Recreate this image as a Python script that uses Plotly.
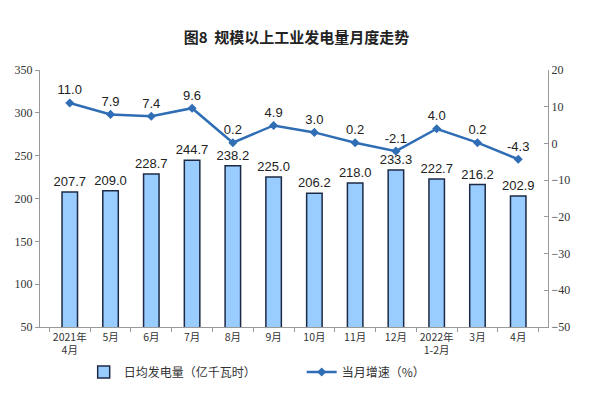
import plotly.graph_objects as go

meses = ["2021年<br>4月", "5月", "6月", "7月", "8月", "9月", "10月", "11月",
         "12月", "2022年<br>1-2月", "3月", "4月"]
generacion = [207.7, 209.0, 228.7, 244.7, 238.2, 225.0, 206.2, 218.0,
              233.3, 222.7, 216.2, 202.9]
crecimiento = [11.0, 7.9, 7.4, 9.6, 0.2, 4.9, 3.0, 0.2, -2.1, 4.0, 0.2, -4.3]

fuente_cjk = "Noto Sans CJK SC"
fuente_ejes = "Liberation Serif"

fig = go.Figure()

fig.add_trace(go.Bar(
    x=meses, y=generacion,
    name="日均发电量（亿千瓦时）",
    marker={'color': "#99ccff", 'line': {'color': "#1c2a45", 'width': 1.5}},
    texttemplate="%{y:.1f}", textposition="outside", cliponaxis=False,
    constraintext="none",
    textfont={'family': "Liberation Sans", 'size': 13, 'color': "#222"},
))

fig.add_trace(go.Scatter(
    x=meses, y=crecimiento, yaxis="y2",
    name="当月增速（%）",
    mode="lines+markers+text",
    line={'color': "#2f6db5", 'width': 2.5},
    marker={'symbol': "diamond", 'size': 7, 'color': "#2f6db5"},
    texttemplate="%{y:.1f}", textposition="top center", cliponaxis=False,
    textfont={'family': "Liberation Sans", 'size': 13, 'color': "#222"},
))

# la página deja 8px de margen, así que la figura es algo más chica
fig.update_layout(
    width=577, height=391,
    paper_bgcolor="white", plot_bgcolor="white",
    margin={'l': 32, 'r': 37, 't': 62, 'b': 72, 'autoexpand': False},
    bargap=0.62,
    title={'text': "<b>图8  规模以上工业发电量月度走势</b>", 'x': 0.5,
           'y': 0.925, 'xanchor': "center", 'yanchor': "middle",
           'font': {'family': fuente_cjk, 'size': 15, 'color': "#222"}},
    xaxis={'showline': True, 'linecolor': "#999", 'ticks': "outside",
           'tickson': "boundaries", 'ticklen': 4, 'tickcolor': "#999",
           'tickangle': 0,
           'tickfont': {'family': fuente_cjk, 'size': 10.5, 'color': "#333"}},
    yaxis={'range': [50, 350], 'dtick': 50, 'showgrid': False,
           'showline': True, 'linecolor': "#999", 'ticks': "outside",
           'ticklen': 4, 'tickcolor': "#999", 'zeroline': False,
           'tickfont': {'family': fuente_ejes, 'size': 12, 'color': "#333"}},
    yaxis2={'range': [-50, 20], 'dtick': 10, 'overlaying': "y",
            'side': "right", 'showgrid': False, 'zeroline': False,
            'showline': True, 'linecolor': "#999", 'ticks': "inside",
            'ticklen': 4, 'tickcolor': "#999",
            'tickfont': {'family': fuente_ejes, 'size': 12, 'color': "#333"}},
    legend={'orientation': "h", 'x': 0.086, 'xanchor': "left",
            'y': -0.175, 'yanchor': "middle", 'bgcolor': "rgba(0,0,0,0)",
            'entrywidth': 173, 'itemwidth': 30, 'tracegroupgap': 0,
            'font': {'family': fuente_cjk, 'size': 12, 'color': "#333"}},
)

fig.write_html("out.html")
